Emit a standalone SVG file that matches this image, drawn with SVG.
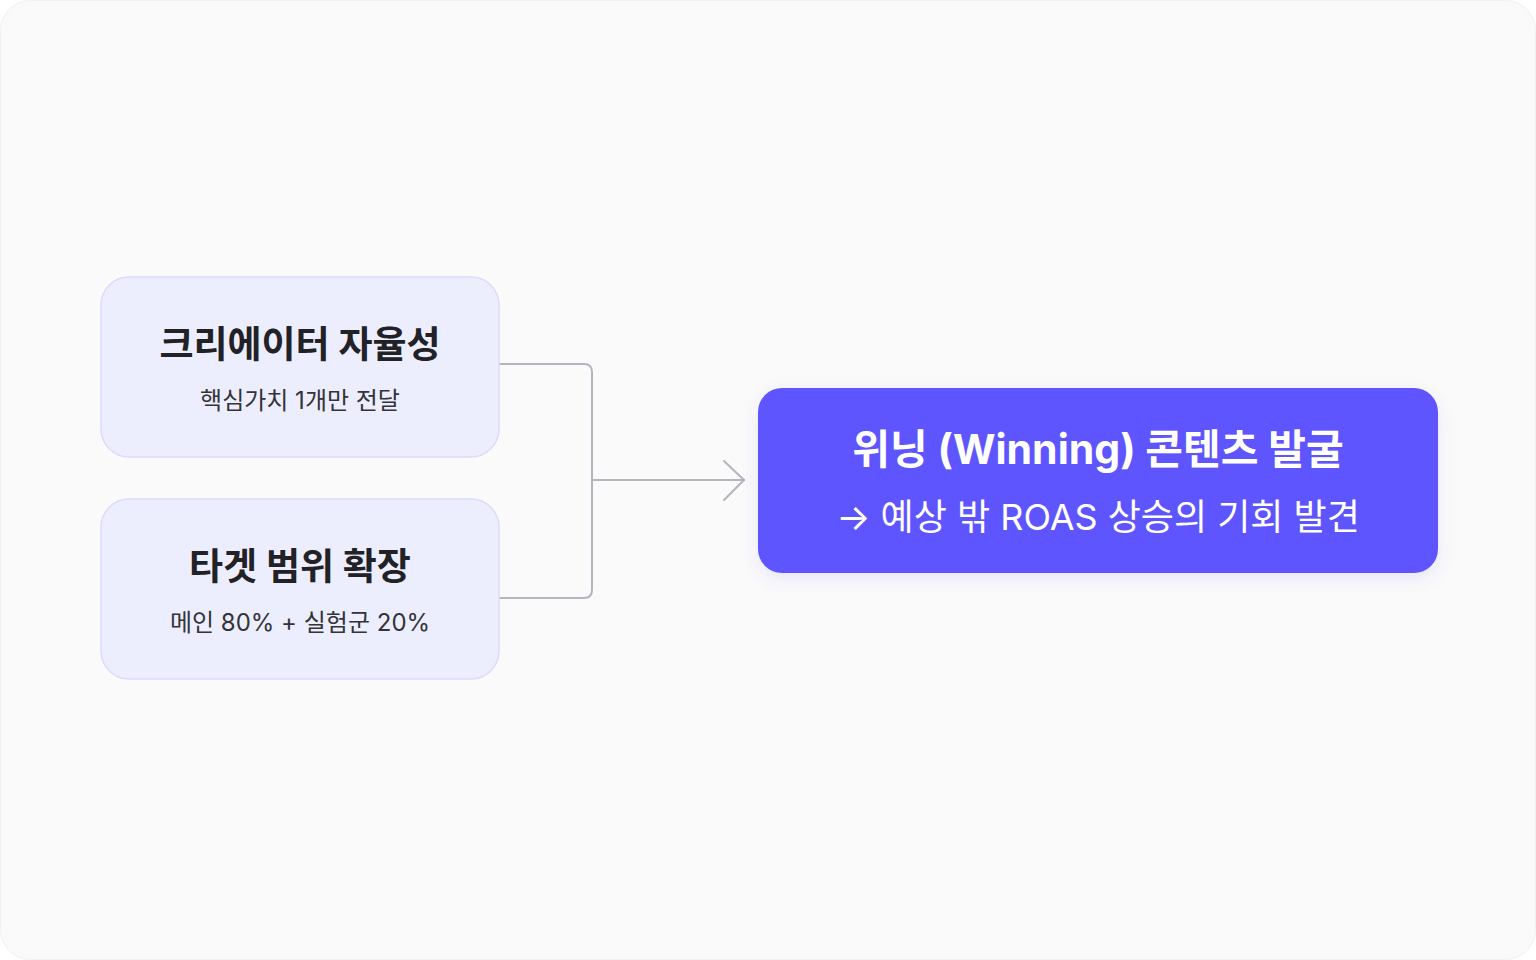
<svg xmlns="http://www.w3.org/2000/svg" width="1536" height="960" viewBox="0 0 1536 960">
<defs>
<style>
.src rect{fill:#eceefe;stroke:#dadcfa;stroke-width:1.5}
.t{font-family:Inter,"Noto Sans CJK KR",sans-serif;text-anchor:middle}
.h{font-size:37px;font-weight:700;fill:#222226}
.s{font-size:24px;font-weight:400;fill:#333338}
.wh{font-size:41px;font-weight:700;fill:#ffffff}
.ws{font-size:36px;font-weight:400;fill:#ffffff}
.c{fill:none;stroke:#b5b5bf;stroke-width:2;stroke-linecap:round;stroke-linejoin:round}
</style>
<filter id="sh" x="-10%" y="-20%" width="120%" height="150%">
<feDropShadow dx="0" dy="6" stdDeviation="8" flood-color="#5f55fe" flood-opacity="0.12"/>
</filter>
</defs>
<rect x="0" y="0" width="1536" height="960" fill="#ffffff"/>
<rect x="0.5" y="0.5" width="1535" height="959" rx="30" fill="#fafafa" stroke="#f0f0f5" stroke-width="1"/>
<g id="connectors">
<path class="c" d="M499,364 H584 Q592,364 592,372 V590 Q592,598 584,598 H499"/>
<path class="c" d="M592,480 H744"/>
<path class="c" d="M724,461 L744,480 L724,500"/>
</g>
<g id="node-creator" class="src">
<rect x="101" y="277" width="398" height="180" rx="28"/>
<text class="t h" x="300" y="358">크리에이터 자율성</text>
<text class="t s" x="300" y="409">핵심가치 1개만 전달</text>
</g>
<g id="node-target" class="src">
<rect x="101" y="499" width="398" height="180" rx="28"/>
<text class="t h" x="300" y="580">타겟 범위 확장</text>
<text class="t s" x="300" y="631">메인 80% + 실험군 20%</text>
</g>
<g id="node-winning">
<rect x="758" y="388" width="680" height="185" rx="24" fill="#5f55fe" filter="url(#sh)"/>
<text class="t wh" x="1098" y="464">위닝 (Winning) 콘텐츠 발굴</text>
<text class="t ws" x="1098" y="530">→ 예상 밖 ROAS 상승의 기회 발견</text>
</g>
</svg>
